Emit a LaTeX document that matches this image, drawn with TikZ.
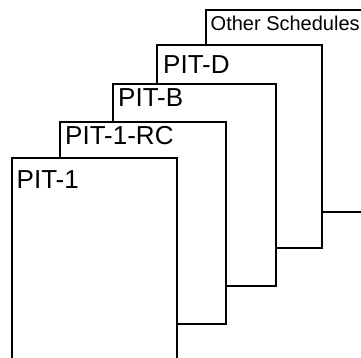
\documentclass[tikz,border=0pt]{standalone}
\usepackage{fontspec}
\setmainfont{Liberation Sans}
\begin{document}
\begin{tikzpicture}[x=1pt,y=-1pt,
  sheet/.style={draw=black, fill=white, line width=1.4pt, inner sep=0pt, outer sep=0pt, anchor=north west},
  biglabel/.style={font=\fontsize{26}{26}\selectfont, anchor=base west, inner sep=0pt},
  smalllabel/.style={font=\fontsize{20}{20}\selectfont, anchor=base west, inner sep=0pt}]
\useasboundingbox (0,0) rectangle (361,358);
\node[sheet, minimum width=165pt, minimum height=202pt] (other) at (206,10) {};
\node[smalllabel] (otherlbl) at (210.5,30.7) {Other Schedules};
\node[sheet, minimum width=165pt, minimum height=203pt] (pitd) at (157,45) {};
\node[biglabel] (pitdlbl) at (163,73.3) {PIT-D};
\node[sheet, minimum width=163pt, minimum height=202pt] (pitb) at (113,84) {};
\node[biglabel] (pitblbl) at (118,106.7) {PIT-B};
\node[sheet, minimum width=166pt, minimum height=202pt] (pitrc) at (60,122) {};
\node[biglabel] (pitrclbl) at (65,145) {PIT-1-RC};
\node[sheet, minimum width=165pt, minimum height=201pt] (pitone) at (12,158) {};
\node[biglabel] (pitonelbl) at (16.5,188) {PIT-1};
\end{tikzpicture}
\end{document}
